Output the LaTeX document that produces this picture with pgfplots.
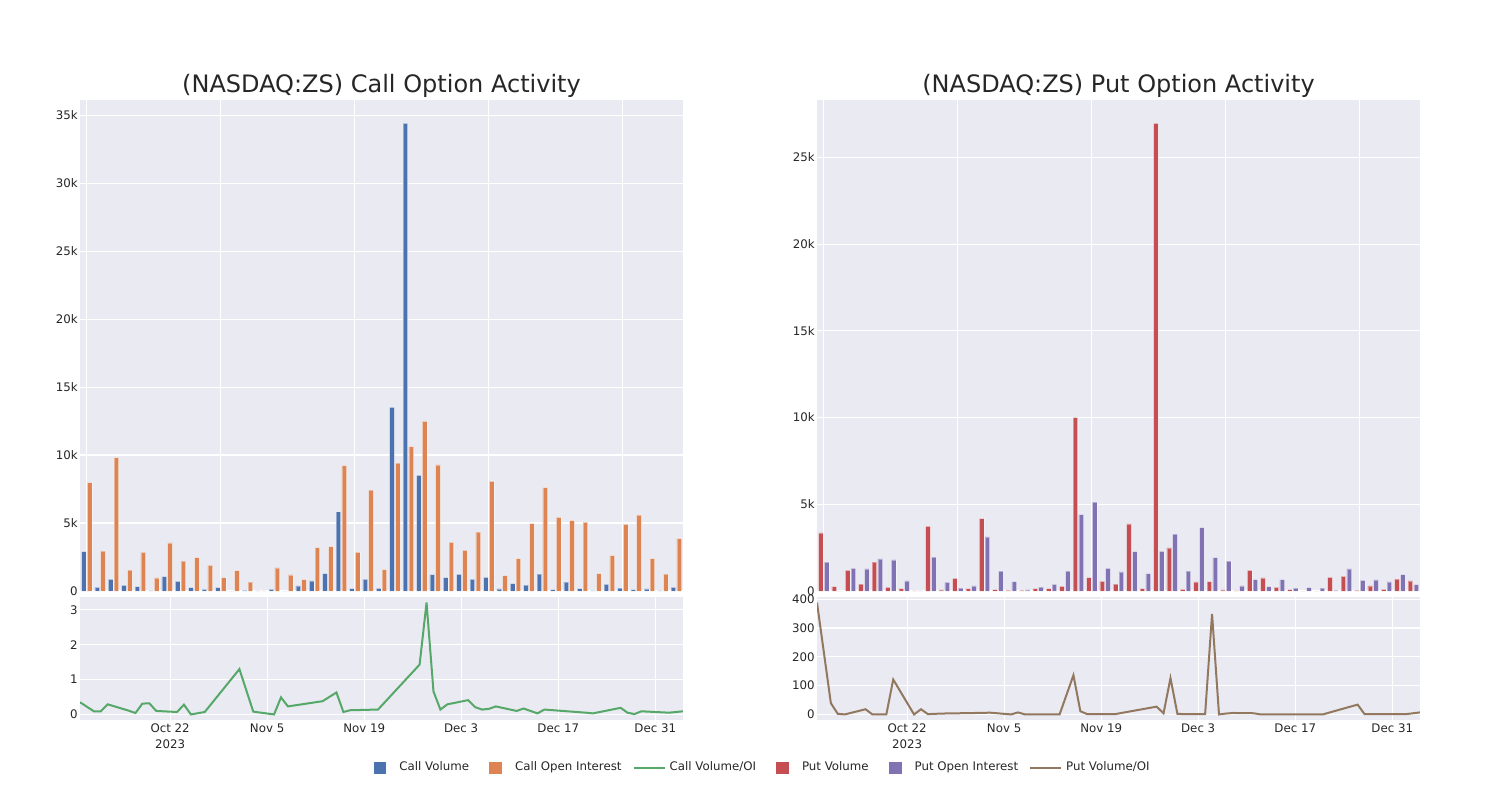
\documentclass[border=0pt]{standalone}
\usepackage{pgfplots}
\pgfplotsset{compat=1.18}
\usepackage{pgfplotstable}
\usepackage{fontspec}
\setmainfont{DejaVu Sans}
\definecolor{bgc}{HTML}{EAEAF2}
\definecolor{cblue}{HTML}{4C72B0}
\definecolor{corange}{HTML}{DD8452}
\definecolor{cgreen}{HTML}{55A868}
\definecolor{cred}{HTML}{C44E52}
\definecolor{cpurple}{HTML}{8172B3}
\definecolor{cbrown}{HTML}{937860}
\definecolor{txt}{HTML}{262626}

\pgfplotstableread{
idx day cvol coi cratio pvol poi pratio
0 0 2900 7970 0.35 3350 1660 388
1 2 270 2930 0.09 250 0 39
2 3 860 9820 0.09 1190 1310 2
3 4 420 1530 0.29 400 1270 0
4 7 320 2850 0.11 1660 1850 18
5 8 25 960 0.04 210 1790 0
6 9 1060 3540 0.31 135 580 0
7 10 710 2190 0.32 10 10 0
8 11 250 2460 0.10 3720 1950 121
9 14 120 1890 0.07 60 500 0
10 15 250 980 0.28 730 170 18
11 16 0 1500 0.00 135 290 1
12 18 45 660 0.07 4180 3120 3
13 23 13 10 1.30 80 1140 5
14 25 120 1700 0.08 40 540 6
15 28 0 1180 0.00 40 60 0
16 29 370 840 0.49 135 230 7
17 30 740 3200 0.23 135 385 0
18 35 1280 3270 0.38 270 1140 0
19 37 5830 9230 0.63 10000 4410 136
20 38 170 2850 0.07 770 5130 11
21 39 860 7430 0.12 560 1310 1
22 43 200 1570 0.14 400 1100 1
23 49 13500 9400 1.43 3870 2270 27
24 50 34400 10630 3.21 135 1000 4
25 51 8510 12470 0.66 26960 2290 126
26 52 1200 9270 0.14 2490 3280 2
27 53 980 3570 0.29 100 1140 1
28 56 1230 2980 0.41 520 3660 1
29 57 860 4330 0.21 540 1930 349
30 58 1010 8070 0.14 60 1720 0
31 59 150 1130 0.16 20 290 3
32 60 540 2390 0.23 1190 655 5
33 63 440 4950 0.10 750 250 4
34 64 1250 7600 0.17 210 655 0
35 66 100 5410 0.03 80 170 0
36 67 660 5170 0.14 0 190 0
37 73 170 5040 0.05 0 170 0
38 74 25 1280 0.03 790 40 7
39 78 490 2610 0.19 850 1270 34
40 79 220 4900 0.05 40 620 1
41 80 100 5580 0.01 290 640 1
42 81 150 2390 0.09 100 520 1
43 85 25 1250 0.05 690 940 1
44 87 270 3860 0.09 580 370 7
}\data

\pgfplotsset{
  base/.style={scale only axis, width=301.5pt, anchor=south west,
    axis background/.style={fill=bgc},
    axis line style={draw=none}, tick style={draw=none},
    grid=major, grid style={white, line width=0.6pt},
    tick label style={font=\fontsize{5.9}{8}\selectfont, text=txt},
    yticklabel style={inner xsep=1pt},
    xticklabel style={inner ysep=1.5pt},
    scaled ticks=false,
    /pgf/number format/assume math mode=true},
  barax/.style={base, height=245.5pt, xmin=-0.5, xmax=44.5,
    xtick={0,10,20,30,40}, xticklabels=\empty, ymin=0,
    title style={font=\fontsize{12}{14}\selectfont, text=txt, inner sep=0pt,
      anchor=south, at={(0.5,1)}, yshift=-5pt}},
  lineax/.style={base, height=61.5pt, xmin=0, xmax=87,
    xtick={13,27,41,55,69,83},
    xticklabels={{Oct 22\\2023},Nov 5,Nov 19,Dec 3,Dec 17,Dec 31},
    xticklabel style={align=center}},
  barA/.style={ybar, bar width=2.3pt, bar shift=-1.45pt, draw=white, draw opacity=0.4, line width=0.3pt},
  barB/.style={ybar, bar width=2.3pt, bar shift=1.45pt, draw=white, draw opacity=0.4, line width=0.3pt},
}

\begin{document}
\begin{tikzpicture}
\path[use as bounding box] (0,0) rectangle (750pt,400pt);

% Call bars
\begin{axis}[barax, at={(40pt,104.5pt)}, ymax=36120,
  ytick={0,5000,10000,15000,20000,25000,30000,35000},
  yticklabels={0,5k,10k,15k,20k,25k,30k,35k},
  title={(NASDAQ:ZS) Call Option Activity}]
\addplot[barA, fill=cblue] table[x=idx, y=cvol]{\data};
\addplot[barB, fill=corange] table[x=idx, y=coi]{\data};
\end{axis}

% Call ratio
\begin{axis}[lineax, at={(40pt,40pt)}, ymin=-0.16, ymax=3.37,
  ytick={0,1,2,3}]
\addplot[cgreen, line width=1pt, mark=none] table[x=day, y=cratio]{\data};
\end{axis}

% Put bars
\begin{axis}[barax, at={(408.5pt,104.5pt)}, ymax=28308,
  ytick={0,5000,10000,15000,20000,25000},
  yticklabels={0,5k,10k,15k,20k,25k},
  title={(NASDAQ:ZS) Put Option Activity}]
\addplot[barA, fill=cred] table[x=idx, y=pvol]{\data};
\addplot[barB, fill=cpurple] table[x=idx, y=poi]{\data};
\end{axis}

% Put ratio
\begin{axis}[lineax, at={(408.5pt,40pt)}, ymin=-19.4, ymax=407.4,
  ytick={0,100,200,300,400}]
\addplot[cbrown, line width=1pt, mark=none] table[x=day, y=pratio]{\data};
\end{axis}

% Legend
\begin{axis}[hide axis, scale only axis, width=10pt, height=10pt,
  xmin=0, xmax=1, ymin=0, ymax=1, at={(378.5pt,16pt)}, anchor=center,
  legend columns=6,
  legend style={at={(0.5,0.5)}, anchor=center, draw=none, fill=none,
    font=\fontsize{5.9}{7}\selectfont, text=txt,
    nodes={inner xsep=0pt},
    /tikz/every odd column/.append style={column sep=2pt},
    /tikz/every even column/.append style={column sep=5.5pt}}]
\addlegendimage{legend image code/.code={\path[draw=none] (0pt,0pt) -- (15.5pt,0pt); \fill[cblue] (4.85pt,-2.9pt) rectangle (10.65pt,2.9pt);}}
\addlegendentry{Call Volume}
\addlegendimage{legend image code/.code={\path[draw=none] (0pt,0pt) -- (15.5pt,0pt); \fill[corange] (4.85pt,-2.9pt) rectangle (10.65pt,2.9pt);}}
\addlegendentry{Call Open Interest}
\addlegendimage{legend image code/.code={\draw[cgreen, line width=1pt] (0pt,0pt) -- (15.5pt,0pt);}}
\addlegendentry{Call Volume/OI}
\addlegendimage{legend image code/.code={\path[draw=none] (0pt,0pt) -- (15.5pt,0pt); \fill[cred] (4.85pt,-2.9pt) rectangle (10.65pt,2.9pt);}}
\addlegendentry{Put Volume}
\addlegendimage{legend image code/.code={\path[draw=none] (0pt,0pt) -- (15.5pt,0pt); \fill[cpurple] (4.85pt,-2.9pt) rectangle (10.65pt,2.9pt);}}
\addlegendentry{Put Open Interest}
\addlegendimage{legend image code/.code={\draw[cbrown, line width=1pt] (0pt,0pt) -- (15.5pt,0pt);}}
\addlegendentry{Put Volume/OI}
\end{axis}
\end{tikzpicture}
\end{document}
